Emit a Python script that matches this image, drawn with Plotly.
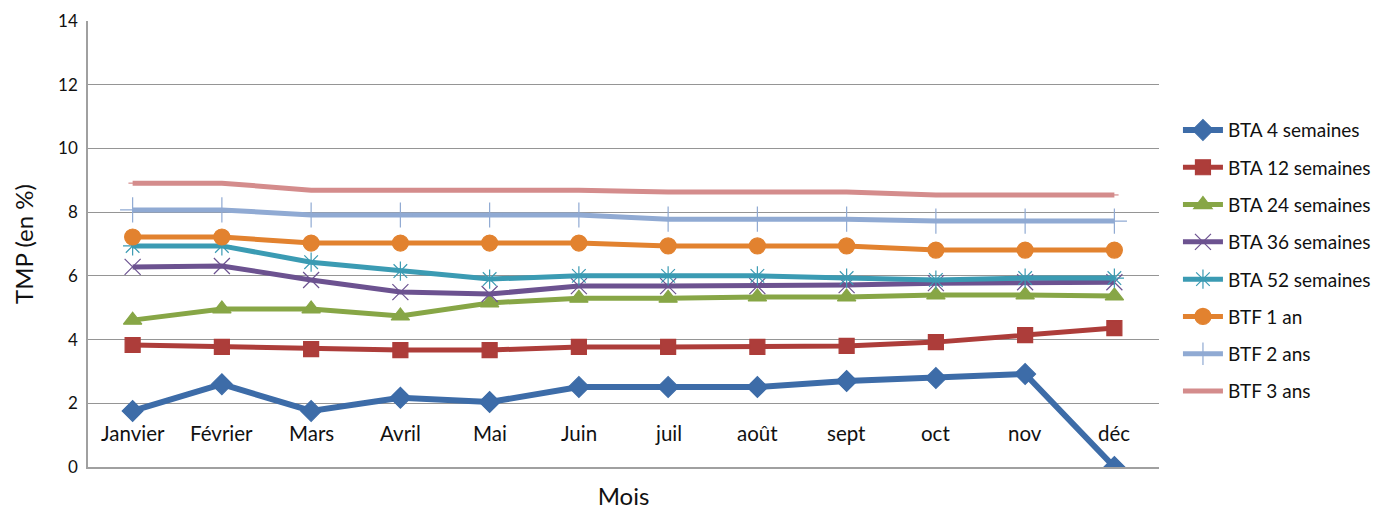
import plotly.graph_objects as go

months = ["Janvier", "Février", "Mars", "Avril", "Mai", "Juin", "juil", "août", "sept", "oct", "nov", "déc"]

bta4 = [1.76, 2.6, 1.76, 2.17, 2.04, 2.51, 2.51, 2.51, 2.7, 2.79, 2.92, 0.0]
bta12 = [3.83, 3.77, 3.7, 3.67, 3.67, 3.77, 3.77, 3.77, 3.8, 3.92, 4.14, 4.36]
bta24 = [4.61, 4.96, 4.96, 4.74, 5.15, 5.3, 5.3, 5.34, 5.34, 5.4, 5.4, 5.37]
bta36 = [6.28, 6.31, 5.87, 5.49, 5.43, 5.68, 5.68, 5.68, 5.71, 5.77, 5.8, 5.8]
bta52 = [6.94, 6.94, 6.43, 6.15, 5.9, 6.0, 6.0, 6.0, 5.93, 5.87, 5.93, 5.93]
btf1 = [7.22, 7.22, 7.03, 7.03, 7.03, 7.03, 6.94, 6.94, 6.94, 6.81, 6.81, 6.81]
btf2 = [8.07, 8.07, 7.91, 7.91, 7.91, 7.91, 7.78, 7.78, 7.78, 7.72, 7.72, 7.72]
btf3 = [8.91, 8.91, 8.69, 8.69, 8.69, 8.69, 8.63, 8.63, 8.63, 8.54, 8.54, 8.54]

y_ticks = [0, 2, 4, 6, 8, 10, 12, 14]
label_level = 1.07

series = [
    ("BTA 4 semaines", bta4, "#3d6ca8", "diamond", 16),
    ("BTA 12 semaines", bta12, "#ad3d3a", "square", 15),
    ("BTA 24 semaines", bta24, "#87a646", "triangle-up", 16),
    ("BTA 36 semaines", bta36, "#6c5290", "x-thin-open", 16),
    ("BTA 52 semaines", bta52, "#3b9bb3", "asterisk-open", 16),
    ("BTF 1 an", btf1, "#e2822f", "circle", 16),
    ("BTF 2 ans", btf2, "#90aad3", "cross-thin-open", 18),
    ("BTF 3 ans", btf3, "#d48c8c", "line-ew-open", 6),
]

fig = go.Figure()
for i, (name, vals, color, sym, size) in enumerate(series):
    fig.add_trace(go.Scatter(
        x=list(range(len(months))), y=vals, name=name, mode="lines+markers",
        line=dict(color=color, width=6 if i == 0 else 5),
        marker=dict(symbol=sym, size=size, color=color,
                    line=dict(color=color, width=1.2)),
        legendgroup=str(i),
    ))

for i, m in enumerate(months):
    fig.add_annotation(x=i, y=label_level, xref="x", yref="y", text=m,
                       showarrow=False, font=dict(size=20.5, color="#111111"))

fig.update_layout(
    width=1380, height=510,
    margin=dict(l=80, r=229, t=13, b=51, autoexpand=False),
    plot_bgcolor="white", paper_bgcolor="white",
    font=dict(family="Lato, Open Sans, sans-serif", color="#111111"),
    xaxis=dict(range=[-0.5, 11.5], showticklabels=False, showgrid=False,
               zeroline=False, showline=True, linecolor="#a0a0a0", linewidth=1.5,
               automargin=False,
               title=dict(text="Mois", font=dict(size=24), standoff=20)),
    yaxis=dict(range=[0, 14], tickvals=y_ticks, showgrid=True, gridcolor="#959595",
               gridwidth=1, zeroline=False, showline=True, linecolor="#a0a0a0",
               linewidth=1.5, ticks="", ticklabelstandoff=5, automargin=False,
               tickfont=dict(size=17),
               title=dict(text="TMP (en %)", font=dict(size=24), standoff=18)),
    legend=dict(x=1.0177, y=0.798, xanchor="left", yanchor="top",
                font=dict(size=19), tracegroupgap=9.6,
                traceorder="grouped", itemwidth=40),
    showlegend=True,
)

fig.write_html("out.html")
